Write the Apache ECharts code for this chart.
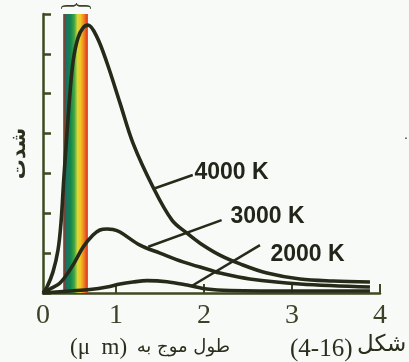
<!DOCTYPE html>
<html><head><meta charset="utf-8">
<script src="https://cdn.jsdelivr.net/npm/echarts@6/dist/echarts.min.js"></script>
<style>html,body{margin:0;padding:0;background:#f8faf7}#c{width:409px;height:362px}</style>
</head><body><div id="c"></div>
<script>
// x: wavelength (µm), y: intensity (arbitrary units, 0..7)
const xMin = 0.1705;
const xMax = 4;
const xTickValues = [1, 2, 3, 4];
const xLabelValues = [0.1705, 1, 2, 3, 4];
const xLabelTexts = ['0', '1', '2', '3', '4'];
const spectrumRange = [0.40, 0.68];

const t4000 = [[0.1705,0],[0.216,0.15],[0.284,0.53],[0.341,1.08],[0.375,1.76],[0.406,2.84],[0.44,3.91],[0.477,5.02],[0.515,5.85],[0.568,6.40],[0.625,6.65],[0.682,6.72],[0.784,6.42],[0.898,5.77],[1.045,4.77],[1.193,3.76],[1.42,2.66],[1.636,1.83],[1.807,1.50],[1.955,1.25],[2.18,0.95],[2.41,0.73],[2.716,0.50],[3.09,0.35],[3.466,0.30],[3.886,0.276]];
const t3000 = [[0.1705,0],[0.25,0.10],[0.364,0.25],[0.511,0.70],[0.625,1.15],[0.739,1.455],[0.818,1.58],[0.898,1.605],[0.966,1.593],[1.045,1.53],[1.273,1.20],[1.50,1.00],[1.761,0.78],[2.068,0.577],[2.18,0.50],[2.52,0.35],[3.09,0.226],[3.886,0.15]];
const t2000 = [[0.1705,0],[0.477,0.05],[0.705,0.088],[0.898,0.15],[1.045,0.226],[1.193,0.276],[1.352,0.31],[1.58,0.283],[1.807,0.20],[2.034,0.10],[2.295,0.063],[3.09,0.05],[3.886,0.05]];

const seriesNames = ['4000 K', '3000 K', '2000 K'];
const leaderLines = [
  [[1.443, 2.627], [1.872, 2.96]],
  [[1.367, 1.16], [2.20, 1.83]],
  [[1.86, 0.176], [2.636, 1.20]]
];
const labelPositions = [[1.886, 3.01], [2.295, 1.907], [2.75, 0.953]];

const curveColor = '#262a18';
const axisColor = '#3d4a22';

const chart = echarts.init(document.getElementById('c'), null, {renderer: 'canvas'});
const curves = [t4000, t3000, t2000];

const series = curves.map((d, i) => {
  const s = {
    type: 'line',
    name: seriesNames[i],
    data: d,
    smooth: 0.35,
    symbol: 'none',
    lineStyle: {color: curveColor, width: 3.6},
    z: 3,
    markLine: {
      silent: true,
      symbol: ['none', 'none'],
      lineStyle: {color: curveColor, width: 2.5, type: 'solid'},
      label: {show: false},
      data: [[{coord: leaderLines[i][0]}, {coord: leaderLines[i][1]}]]
    },
    markPoint: {
      silent: true,
      symbol: 'circle',
      symbolSize: 1,
      itemStyle: {color: 'rgba(0,0,0,0)'},
      label: {
        show: true, position: 'right', distance: 0,
        formatter: seriesNames[i],
        fontFamily: 'Liberation Sans', fontWeight: 'bold', fontSize: 23, color: '#22261a'
      },
      data: [{coord: labelPositions[i]}]
    }
  };
  if (i === 0) {
    s.markArea = {
      silent: true,
      itemStyle: {
        color: {type: 'linear', x: 0, y: 0, x2: 1, y2: 0, colorStops: [
          {offset: 0, color: '#8a3a2a'},
          {offset: 0.08, color: '#6a4a3a'},
          {offset: 0.12, color: '#1d6e66'},
          {offset: 0.30, color: '#12874c'},
          {offset: 0.45, color: '#43a444'},
          {offset: 0.58, color: '#d6d83a'},
          {offset: 0.70, color: '#f2c624'},
          {offset: 0.84, color: '#ee8424'},
          {offset: 1, color: '#dd2a1e'}
        ]}
      },
      data: [[{xAxis: spectrumRange[0]}, {xAxis: spectrumRange[1]}]]
    };
  }
  return s;
});

chart.setOption({
  animation: false,
  backgroundColor: '#f8faf7',
  grid: {left: 43, right: 29, top: 14, bottom: 69, containLabel: false, outerBoundsMode: 'none'},
  xAxis: {
    type: 'value', min: xMin, max: xMax,
    axisLine: {show: true, lineStyle: {color: axisColor, width: 2.5}},
    axisTick: {show: true, inside: true, length: 9, customValues: xTickValues, lineStyle: {color: axisColor, width: 2}},
    axisLabel: {
      show: true, customValues: xLabelValues, margin: 9,
      formatter: v => xLabelTexts[xLabelValues.indexOf(v)],
      fontFamily: 'Liberation Serif', fontSize: 28, color: '#3a4326'
    },
    splitLine: {show: false}
  },
  yAxis: {
    type: 'value', min: 0, max: 7, interval: 1,
    name: 'شدت', nameLocation: 'middle', nameGap: 13,
    nameTextStyle: {fontFamily: 'DejaVu Sans', fontWeight: 'bold', fontSize: 20, color: '#2a2e1c'},
    axisLine: {show: true, lineStyle: {color: axisColor, width: 2.5}},
    axisTick: {show: true, inside: true, length: 8, lineStyle: {color: axisColor, width: 2.5}},
    axisLabel: {show: false},
    splitLine: {show: false}
  },
  graphic: [
    {type: 'text', x: 75, y: 6, rotation: -Math.PI / 2, scaleX: 0.55,
      style: {text: '{', fontFamily: 'Liberation Serif', fontSize: 36, fill: '#3a4326', textAlign: 'center', textVerticalAlign: 'middle'}},
    {type: 'text', style: {x: 70, y: 348, text: '(μ  m)', fontFamily: 'Liberation Serif', fontSize: 23, fill: '#2a2e1c', textAlign: 'left', textVerticalAlign: 'middle'}},
    {type: 'text', style: {x: 230, y: 347, text: 'طول موج به', fontFamily: 'DejaVu Sans', fontSize: 18, fill: '#2a2e1c', textAlign: 'right', textVerticalAlign: 'middle'}},
    {type: 'text', style: {x: 290, y: 349, text: '(4-16)', fontFamily: 'Liberation Serif', fontSize: 25, fill: '#2a2e1c', textAlign: 'left', textVerticalAlign: 'middle'}},
    {type: 'text', style: {x: 357, y: 345, text: 'شکل', fontFamily: 'DejaVu Sans', fontSize: 23, fill: '#2a2e1c', textAlign: 'left', textVerticalAlign: 'middle'}},
    {type: 'text', style: {x: 406, y: 135, text: '.', fontFamily: 'Liberation Sans', fontSize: 14, fill: '#2a2e1c', textAlign: 'center', textVerticalAlign: 'middle'}}
  ],
  series: series
});
</script>
</body></html>
